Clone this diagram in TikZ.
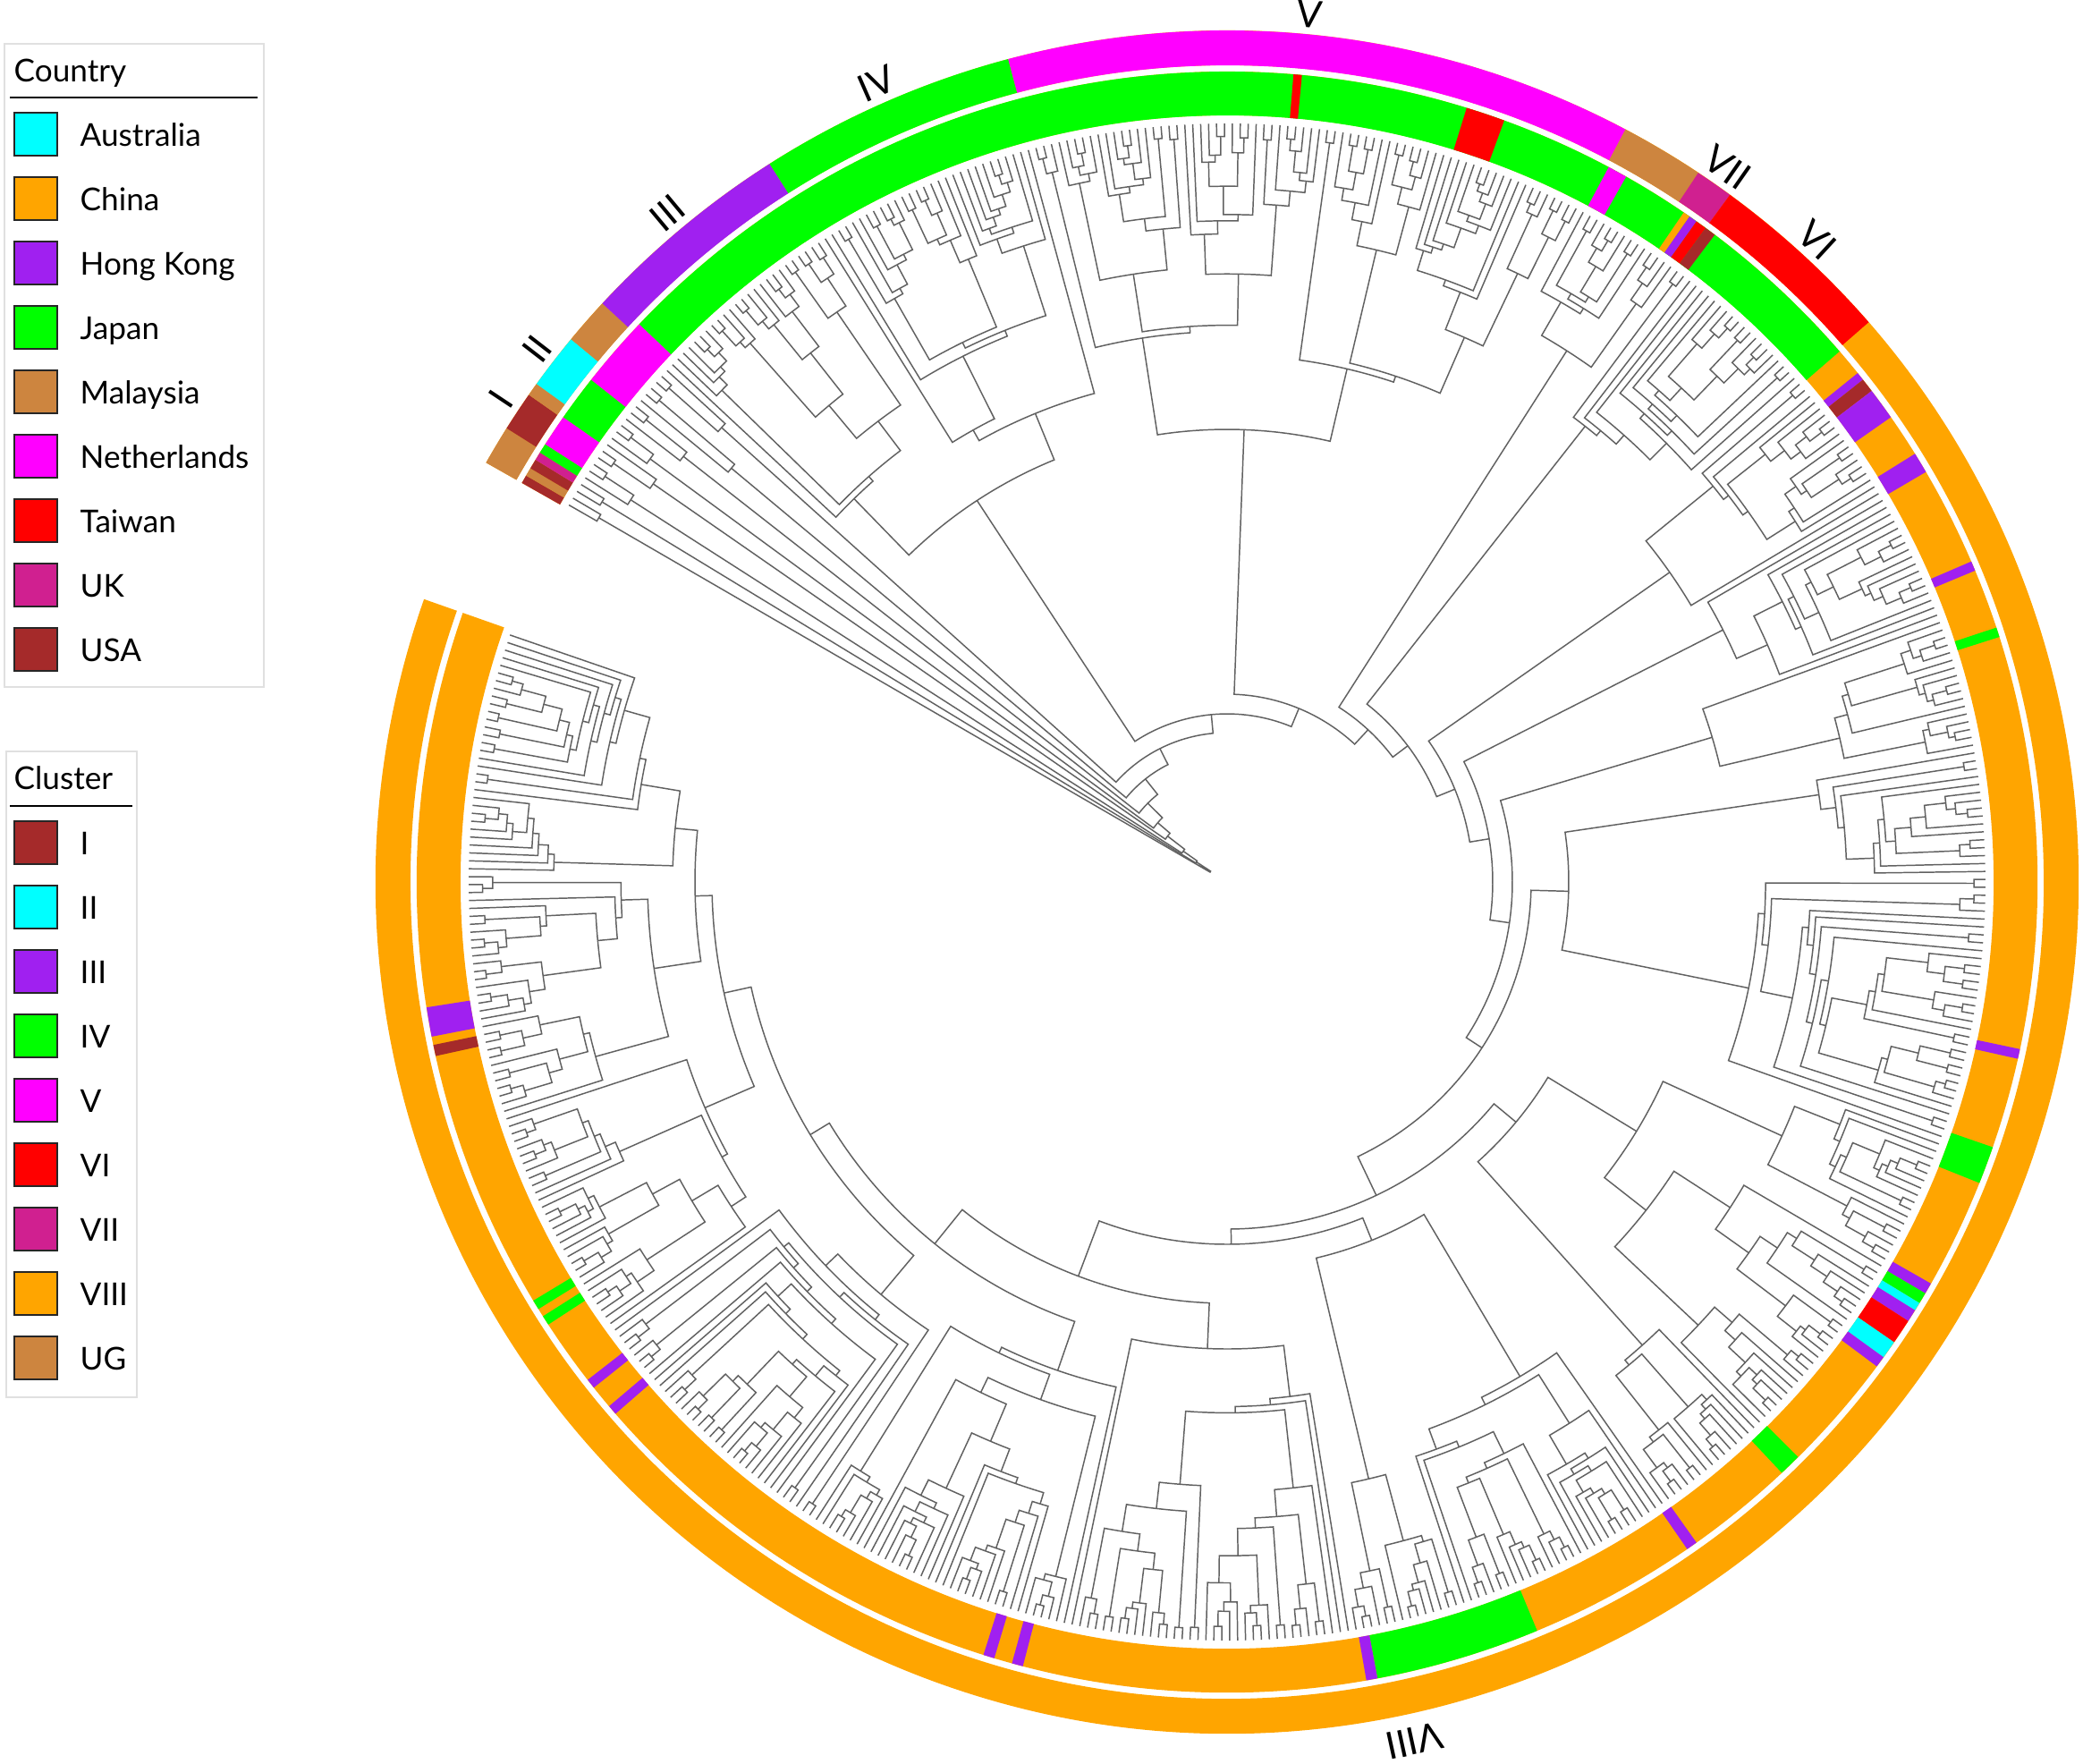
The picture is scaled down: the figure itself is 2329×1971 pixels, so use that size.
\documentclass[tikz,border=0pt]{standalone}
\usepackage{fontspec}
\setmainfont{Lato}
\definecolor{cAus}{HTML}{00FFFF}
\definecolor{cChi}{HTML}{FFA500}
\definecolor{cHK}{HTML}{A020F0}
\definecolor{cJap}{HTML}{00FF00}
\definecolor{cMal}{HTML}{CD853F}
\definecolor{cNet}{HTML}{FF00FF}
\definecolor{cTai}{HTML}{FF0000}
\definecolor{cUK}{HTML}{D02090}
\definecolor{cUSA}{HTML}{A52A2A}
\tikzset{
  tree/.style={draw=black!62, line width=0.42pt, line join=miter},
  legbox/.style={draw=black!12, line width=0.5pt},
  legline/.style={draw=black, line width=0.5pt},
  sq/.style={draw=black!85, line width=0.5pt, minimum width=0.48cm, minimum height=0.48cm, inner sep=0pt},
  ltext/.style={anchor=base west, inner sep=0pt, font=\fontsize{10}{12}\selectfont},
  ringlab/.style={inner sep=0pt, font=\fontsize{12}{14}\selectfont},
}
\newcommand\Rtip{848}
\def\kids{}
\newcommand\Bnode[1]{\begingroup\def\kids{}\edef\nr{#1}}
\newcommand\Eproc[4]{%
  \draw[tree] (#1:#2) -- (#1:\nr) arc[start angle=#1,end angle=#3,radius=\nr] -- (#3:#4);%
  \pgfmathsetmacro\own{(#1+#3)/2}%
  \xdef\Eret{{\own}{\nr}}}
\newcommand\Enode{\expandafter\Eproc\kids\endgroup\edef\kids{\kids\Eret}}
\newcommand\Leaf[1]{\pgfmathsetmacro\lfang{150.2-0.6*#1}\edef\kids{\kids{\lfang}{\Rtip}}}
\newcommand\Crad[3]{%
  \ifnum#2=1\relax \edef#1{\Rtip}%
  \else
    \pgfmathsetmacro#1{min(max(\Rtip-340*(1-exp(-(#2-1)/20))*(0.75+0.35*rnd), #3+7), \Rtip-4)}%
  \fi}
\newcommand\Rclade[3]{%
  \ifnum#1=#2\relax
    \Leaf{#1}%
  \else
    \Bnode{#3}%
    \pgfmathtruncatemacro\rcn{#2-#1+1}%
    \pgfmathtruncatemacro\rcmx{#2-1}%
    \pgfmathrandominteger{\rcr}{1}{100}%
    \ifnum\rcn=2\relax
      \edef\rck{#1}%
    \else\ifnum\rcn>40\relax
      \pgfmathtruncatemacro\rclo{#1+\rcn/4}%
      \pgfmathtruncatemacro\rchi{#1+3*\rcn/4}%
      \pgfmathrandominteger{\rck}{\rclo}{\rchi}%
    \else\ifnum\rcr<30\relax
      \edef\rck{#1}%
    \else\ifnum\rcr<56\relax
      \edef\rck{\rcmx}%
    \else\ifnum\rcr<66\relax
      \pgfmathtruncatemacro\rck{#1+1}%
    \else
      \pgfmathrandominteger{\rck}{#1}{\rcmx}%
    \fi\fi\fi\fi\fi
    \pgfmathtruncatemacro\rck{\rck}%
    \pgfmathtruncatemacro\rckk{\rck+1}%
    \pgfmathtruncatemacro\rcna{\rck-#1+1}%
    \pgfmathtruncatemacro\rcnb{#2-\rck}%
    \Crad\rcra\rcna{#3}%
    \Crad\rcrb\rcnb{#3}%
    \edef\rcnext{\noexpand\Rclade{#1}{\rck}{\rcra}\noexpand\Rclade{\rckk}{#2}{\rcrb}}%
    \rcnext
    \Enode
  \fi}
\newcommand\seg[5]{\fill[fill=#5] (#3:#1) arc[start angle=#3,end angle=#4,radius=#1] -- (#4:#2) arc[start angle=#4,end angle=#3,radius=#2] -- cycle;}
\begin{document}
\begin{tikzpicture}[x=0.01cm,y=0.01cm]
\useasboundingbox (0,0) rectangle (2329,-1971);
\pgfmathsetseed{12}
\begin{scope}[shift={(1372,-986)}]
% ---- outer ring (cluster)
\seg{913}{952}{150.5}{-199.4}{cChi}
\foreach \a/\b/\c in {150.5/147.8/cMal, 147.8/145.1/cUSA, 145.1/144.2/cMal, 144.2/140.4/cAus, 140.4/137.2/cMal, 137.2/122.5/cHK, 122.5/104.9/cJap, 104.9/62.1/cNet, 62.1/56.4/cMal, 56.4/53.8/cUK, 53.8/41.1/cTai}{\seg{913}{952}{\a}{\b}{\c}}
% ---- inner ring (country)
\seg{857}{906}{150.5}{-199.4}{cChi}
\foreach \a/\b/\c in {150.5/149.9/cUSA, 149.9/149.3/cMal, 149.3/148.6/cUSA, 148.6/148.0/cUK, 148.0/147.3/cJap, 147.3/145.0/cNet, 145.0/141.7/cJap, 141.7/136.5/cNet, 136.5/40.9/cJap, 85.3/84.7/cTai, 72.8/70.0/cTai, 61.9/60.5/cNet, 55.7/55.2/cChi, 55.2/54.6/cHK, 54.6/53.8/cTai, 53.8/53.0/cUSA, 38.9/38.3/cHK, 38.3/37.3/cUSA, 37.3/35.0/cHK, 31.9/30.4/cHK, 23.3/22.6/cHK, 18.3/17.6/cJap, -11.9/-12.6/cHK, -19.1/-21.8/cJap, -29.7/-30.5/cHK, -30.5/-31.3/cJap, -31.3/-31.9/cAus, -31.9/-32.8/cHK, -32.8/-34.6/cTai, -34.6/-35.9/cAus, -35.9/-36.7/cHK, -45.2/-46.8/cJap, -54.6/-55.4/cHK, -67.5/-79.3/cJap, -79.3/-80.1/cHK, -104.6/-105.4/cHK, -106.7/-107.5/cHK, -139.0/-139.7/cHK, -141.4/-142.1/cHK, -146.9/-147.6/cJap, -148.2/-148.9/cJap, -167.6/-168.4/cUSA, -169.0/-171.1/cHK}{\seg{857}{906}{\a}{\b}{\c}}
% ---- ring labels
\node[ringlab, rotate=56.4] (labI) at (146.4:975) {I};
\node[ringlab, rotate=52.3] (labII) at (142.3:975) {II};
\node[ringlab, rotate=39.9] (labIII) at (129.9:975) {III};
\node[ringlab, rotate=23.7] (labIV) at (113.7:975) {IV};
\node[ringlab, rotate=-5.4] (labV) at (84.6:975) {V};
\node[ringlab, rotate=-35] (labVII) at (55.0:975) {VII};
\node[ringlab, rotate=-42.6] (labVI) at (47.4:975) {VI};
\node[ringlab, rotate=-167.7] (labVIII) at (-77.7:983) {VIII};
% ---- tree
\Bnode{22}
 \Rclade{0}{1}{812}
 \Bnode{41}
  \Rclade{2}{3}{818}
  \Bnode{60}
   \Rclade{4}{6}{792}
   \Bnode{84}
    \Rclade{7}{9}{781}
    \Bnode{102}
     \Rclade{10}{12}{800}
     \Bnode{125}
      \Rclade{13}{15}{772}
      \Bnode{147}
       \Rclade{16}{18}{722}
       \Bnode{167}
        \Rclade{19}{21}{760}
        \Bnode{188}
         \Bnode{510}
          \Rclade{22}{46}{598}
          \Rclade{47}{75}{566}
         \Enode
         \Bnode{210}
          \Rclade{76}{146}{506}
          \Bnode{232}
           \Bnode{705}
            \Rclade{147}{156}{748}
            \Rclade{157}{160}{792}
           \Enode
           \Bnode{253}
            \Rclade{161}{181}{648}
            \Bnode{275}
             \Rclade{182}{199}{604}
             \Bnode{297}
              \Rclade{200}{216}{622}
              \Bnode{319}
               \Rclade{217}{233}{566}
               \Bnode{340}
                \Rclade{234}{283}{382}
                \Bnode{388}
                 \Rclade{284}{341}{420}
                 \Bnode{405}
                  \Rclade{342}{384}{432}
                  \Bnode{471}
                   \Rclade{385}{420}{522}
                   \Bnode{520}
                    \Rclade{421}{455}{578}
                    \Bnode{545}
                     \Rclade{456}{490}{602}
                     \Bnode{576}
                      \Rclade{491}{520}{636}
                      \Bnode{595}
                       \Rclade{521}{551}{648}
                       \Rclade{552}{582}{620}
                      \Enode % 595
                     \Enode % 576
                    \Enode % 545
                   \Enode % 520
                  \Enode % 471
                 \Enode % 405
                \Enode % 388
               \Enode % 340
              \Enode % 319
             \Enode % 297
            \Enode % 275
           \Enode % 253
          \Enode % 232
         \Enode % 210
        \Enode % 188
       \Enode % 167
      \Enode % 147
     \Enode % 125
    \Enode % 102
   \Enode % 84
  \Enode % 60
 \Enode % 41
\Enode % 22
\end{scope}
% ---- legend: country
\draw[legbox] (5,-49) rectangle (295,-768);
\node[ltext] (ctyT) at (15,-91) {Country};
\draw[legline] (11,-109) -- (288,-109);
\foreach \k/\c/\t in {0/cAus/Australia, 1/cChi/China, 2/cHK/Hong Kong, 3/cJap/Japan, 4/cMal/Malaysia, 5/cNet/Netherlands, 6/cTai/Taiwan, 7/cUK/UK, 8/cUSA/USA}{
  \node[sq, fill=\c] (cs\k) at (40,-150-72*\k) {};
  \node[ltext] (ct\k) at (89,-163-72*\k) {\t};
}
% ---- legend: cluster
\draw[legbox] (7,-840) rectangle (153,-1562);
\node[ltext] (cluT) at (15,-882) {Cluster};
\draw[legline] (11,-901) -- (148,-901);
\foreach \k/\c/\t in {0/cUSA/I, 1/cAus/II, 2/cHK/III, 3/cJap/IV, 4/cNet/V, 5/cTai/VI, 6/cUK/VII, 7/cChi/VIII, 8/cMal/UG}{
  \node[sq, fill=\c] (ks\k) at (40,-942-72*\k) {};
  \node[ltext] (kt\k) at (89,-955-72*\k) {\t};
}
\end{tikzpicture}
\end{document}
